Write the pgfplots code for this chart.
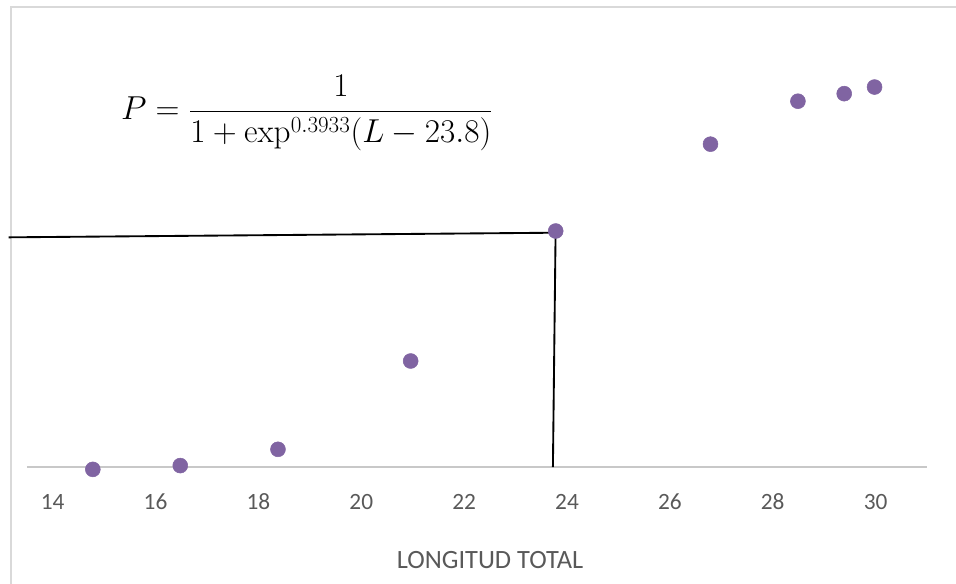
\documentclass[border=0pt]{standalone}
\usepackage[no-math]{fontspec}
\setmainfont{Carlito}
\usepackage{pgfplots}
\pgfplotsset{compat=1.18}
\definecolor{ptc}{HTML}{8064A2}
\definecolor{tlc}{HTML}{595959}
\definecolor{axc}{HTML}{C8C8C8}
\definecolor{frc}{HTML}{D9D9D9}
\begin{document}
\begin{tikzpicture}
\useasboundingbox (0,0) rectangle (717pt,-437.25pt);
\draw[frc, line width=1.1pt] (8.25pt,-5.25pt) rectangle (760pt,-470pt);
\begin{axis}[
  at={(20.25pt,-350.25pt)}, anchor=south west,
  scale only axis, width=675pt, height=354pt,
  xmin=13.5, xmax=31, ymin=0, ymax=1,
  axis y line=none, axis x line=bottom,
  x axis line style={axc, line width=1.1pt, -},
  xtick={14,16,...,30}, major tick length=0pt,
  /pgf/number format/assume math mode=true,
  xticklabel style={font=\fontsize{17.5}{21}\selectfont, text=tlc, anchor=center, yshift=-26.25pt},
  xlabel={LONGITUD TOTAL},
  xlabel style={font=\fontsize{19.8}{24}\selectfont, text=tlc, anchor=center, at={(axis description cs:0.5,0)}, yshift=-69.75pt, xshift=9.75pt},
  clip=false,
]
\addplot[black, line width=1.4pt] coordinates {(13.145,0.4866) (23.778,0.4964) (23.726,0)};
\addplot[only marks, mark=*, mark size=5.6pt, mark options={fill=ptc, draw=ptc}] coordinates {
(14.78,-0.005) (16.48,0.003) (18.38,0.0375) (20.96,0.2246) (23.78,0.5)
(26.79,0.684) (28.49,0.775) (29.39,0.791) (29.98,0.805)};
\end{axis}
\node at (230.25pt,-84.75pt) {\fontsize{23.3}{28}\selectfont $\displaystyle P=\frac{1}{1+\mathrm{exp}^{0.3933}(L-23.8)}$};
\end{tikzpicture}
\end{document}
